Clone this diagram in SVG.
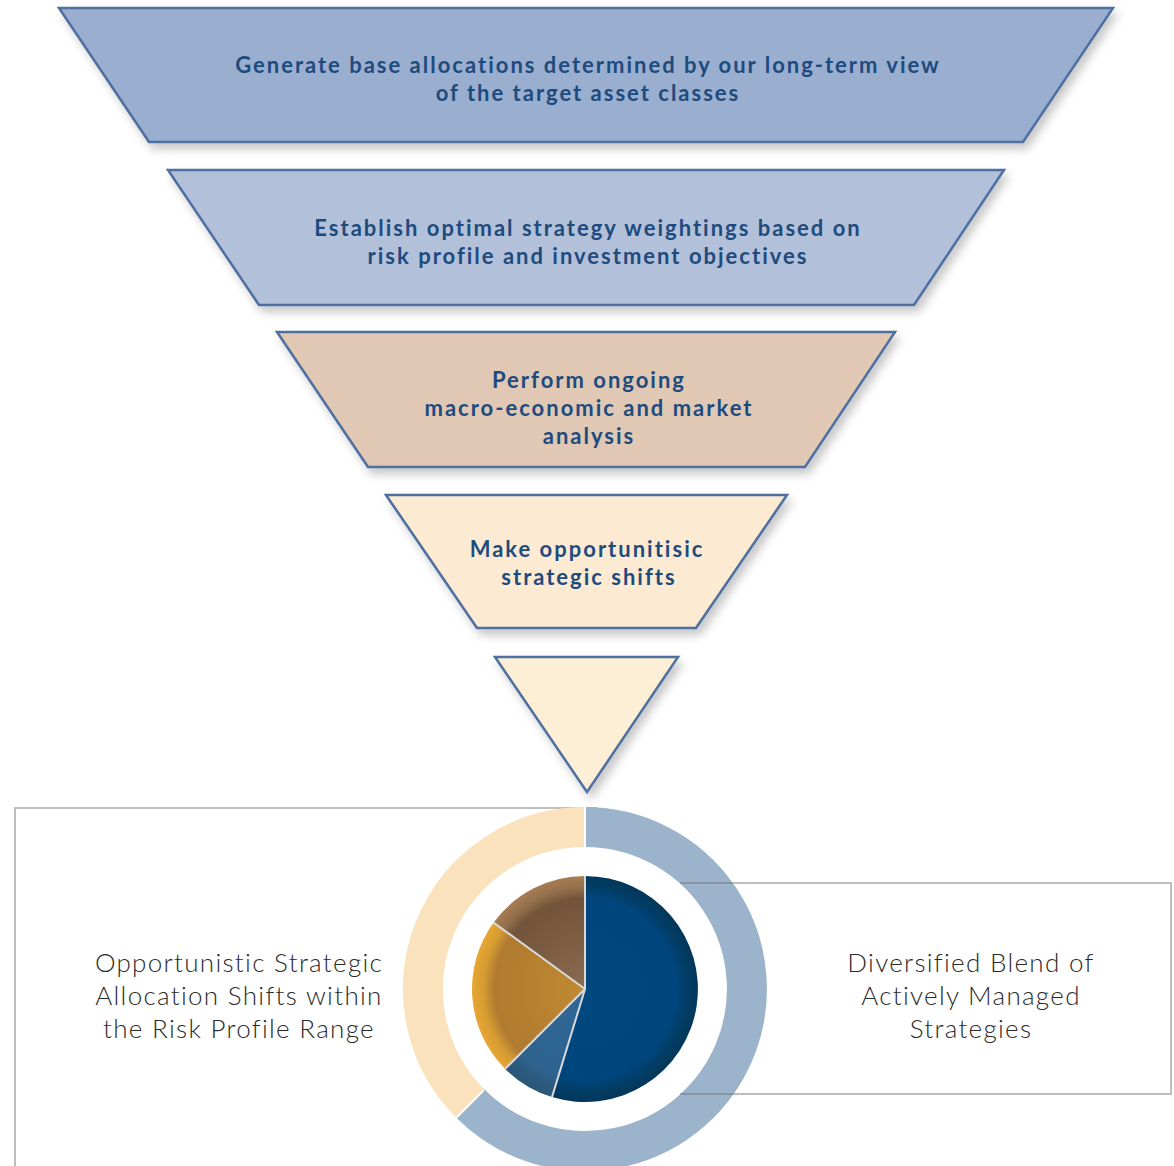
<svg xmlns="http://www.w3.org/2000/svg" width="1174" height="1166" viewBox="0 0 1174 1166">
<defs>
<style>
.stage{stroke:#4e6fa0;stroke-width:2.5;stroke-linejoin:miter;filter:url(#sh)}
.ft{font-family:Lato,"Open Sans","Liberation Sans",sans-serif;font-weight:700;font-size:22px;letter-spacing:2px;fill:#1e4b7e;text-anchor:middle}
.lt{font-family:Lato,"Open Sans","Liberation Sans",sans-serif;font-weight:300;font-size:26px;letter-spacing:1.3px;fill:#2b2b2b;text-anchor:middle}
.frame{fill:none;stroke:#6f6f6f;stroke-opacity:0.45;stroke-width:2}
.sep{stroke:#d9d9d9;stroke-width:2;fill:none}
</style>
<filter id="sh" x="-10%" y="-10%" width="125%" height="135%">
<feDropShadow dx="4" dy="6" stdDeviation="5" flood-color="#000" flood-opacity="0.22"/>
</filter>
<radialGradient id="gBlue" gradientUnits="userSpaceOnUse" cx="585" cy="989" r="113">
<stop offset="0" stop-color="#00487f"/><stop offset="0.8" stop-color="#00467e"/><stop offset="0.9" stop-color="#023d66"/><stop offset="1" stop-color="#03375a"/>
</radialGradient>
<radialGradient id="gMid" gradientUnits="userSpaceOnUse" cx="585" cy="989" r="113">
<stop offset="0" stop-color="#2f6794"/><stop offset="0.8" stop-color="#2e6390"/><stop offset="0.9" stop-color="#2c5a7e"/><stop offset="1" stop-color="#2b5677"/>
</radialGradient>
<radialGradient id="gOr" gradientUnits="userSpaceOnUse" cx="585" cy="989" r="113">
<stop offset="0" stop-color="#c08a32"/><stop offset="0.8" stop-color="#b07a30"/><stop offset="0.9" stop-color="#d59c32"/><stop offset="1" stop-color="#e8a632"/>
</radialGradient>
<radialGradient id="gBr" gradientUnits="userSpaceOnUse" cx="585" cy="989" r="113">
<stop offset="0" stop-color="#8a6b50"/><stop offset="0.8" stop-color="#72543a"/><stop offset="0.9" stop-color="#93704c"/><stop offset="1" stop-color="#a77c52"/>
</radialGradient>
</defs>
<rect width="1174" height="1166" fill="#ffffff"/>

<g id="stage1"><polygon class="stage" points="59,8 1113,8 1023,142 149,142" fill="#9aaecf"/>
<text class="ft" x="588" y="73">Generate base allocations determined by our long-term view</text>
<text class="ft" x="588" y="101">of the target asset classes</text></g>

<g id="stage2"><polygon class="stage" points="168,170 1004,170 914,305 259,305" fill="#b3c0d9"/>
<text class="ft" x="588" y="236">Establish optimal strategy weightings based on</text>
<text class="ft" x="588" y="264">risk profile and investment objectives</text></g>

<g id="stage3"><polygon class="stage" points="277,332 895,332 805,467 368,467" fill="#e0c8b4"/>
<text class="ft" x="589" y="388">Perform ongoing</text>
<text class="ft" x="589" y="416">macro-economic and market</text>
<text class="ft" x="589" y="444">analysis</text></g>

<g id="stage4"><polygon class="stage" points="386,495 787,495 696,628 477,628" fill="#fcebd2"/>
<text class="ft" x="587" y="557">Make opportunitisic</text>
<text class="ft" x="589" y="585">strategic shifts</text></g>

<g id="stage5"><polygon class="stage" points="495,657 678,657 587,792" fill="#fcefd6"/></g>

<g id="connectors">
<path class="frame" d="M597,808 H15 V1170"/>
</g>

<g id="ring">
<path d="M585,827 A162,162 0 1 1 470.4,1103.6" fill="none" stroke="#9bb3cb" stroke-width="40"/>
<path d="M470.4,1103.6 A162,162 0 0 1 585,827" fill="none" stroke="#fae3bc" stroke-width="40"/>
<path d="M585,805 V849 M444.3,1129.7 L483.4,1090.6" stroke="#ffffff" stroke-width="2"/>
</g>

<g id="pie">
<path d="M585,989 L585,876 A113,113 0 1 1 552,1097.1 Z" fill="url(#gBlue)"/>
<path d="M585,989 L552,1097.1 A113,113 0 0 1 505.1,1068.9 Z" fill="url(#gMid)"/>
<path d="M585,989 L505.1,1068.9 A113,113 0 0 1 493.6,922.6 Z" fill="url(#gOr)"/>
<path d="M585,989 L493.6,922.6 A113,113 0 0 1 585,876 Z" fill="url(#gBr)"/>
<path class="sep" d="M585,876 V989 L552,1097.1 M585,989 L505.1,1068.9 M585,989 L493.6,922.6"/>
</g>

<g id="frame-right">
<path class="frame" d="M680,883 H1171 V1094 H680"/>
</g>

<g id="label-left">
<text class="lt" x="239" y="972">Opportunistic Strategic</text>
<text class="lt" x="239" y="1005">Allocation Shifts within</text>
<text class="lt" x="239" y="1038">the Risk Profile Range</text>
</g>
<g id="label-right">
<text class="lt" x="971" y="972">Diversified Blend of</text>
<text class="lt" x="971" y="1005">Actively Managed</text>
<text class="lt" x="971" y="1038">Strategies</text>
</g>
</svg>
